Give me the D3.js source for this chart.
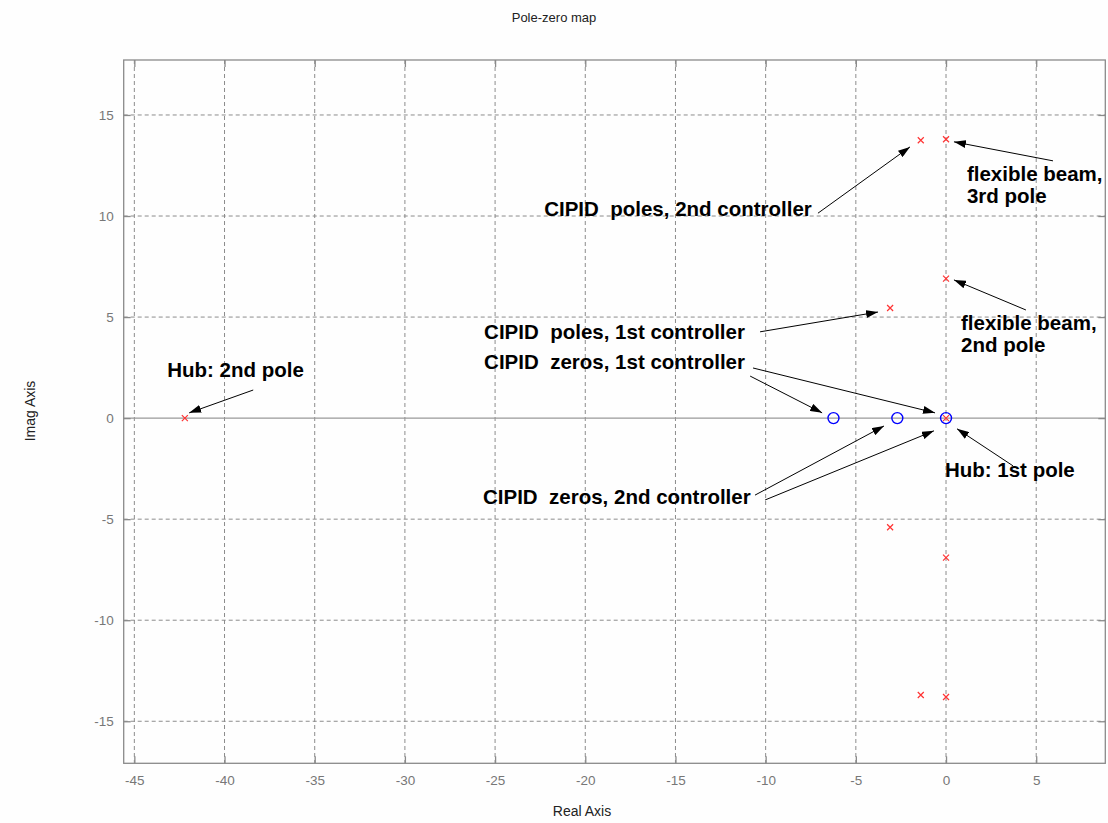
<!DOCTYPE html>
<html>
<head>
<meta charset="utf-8">
<script src="https://cdn.jsdelivr.net/npm/d3@7"></script>
<style>
  body { margin: 0; background: #fefefe; }
  svg { display: block; }
  text { font-family: "Liberation Sans", Arial, sans-serif; white-space: pre; }
</style>
</head>
<body>
<div id="chart"></div>
<script>
// poles (x) and zeros (o) of the loop
let poleRe = [-42.2, 0, -1.4, -1.4, 0, 0, -3.1, -3.1, 0, 0];
let poleIm = [0, 0, 13.75, -13.7, 13.8, -13.8, 5.45, -5.4, 6.9, -6.9];
let zeroRe = [-6.24, -2.7, 0];
let zeroIm = [0, 0, 0];

let xTicks = [-45, -40, -35, -30, -25, -20, -15, -10, -5, 0, 5];
let yTicks = [-15, -10, -5, 0, 5, 10, 15];

// notes: text lines, where the text starts (data units), arrows [from, to]
let notes = [
  {lines: ["CIPID  poles, 2nd controller"], at: [-22.28, 9.99],
   arrows: [[[-7.1, 10.14], [-2.0, 13.42]]]},
  {lines: ["flexible beam,", "3rd pole"], at: [1.16, 11.75],
   arrows: [[[5.93, 12.73], [0.44, 13.67]]]},
  {lines: ["flexible beam,", "2nd pole"], at: [0.83, 4.36],
   arrows: [[[4.43, 5.35], [0.44, 6.84]]]},
  {lines: ["CIPID  poles, 1st controller"], at: [-25.61, 3.92],
   arrows: [[[-10.31, 4.27], [-3.77, 5.25]]]},
  {lines: ["CIPID  zeros, 1st controller"], at: [-25.61, 2.43],
   arrows: [[[-10.7, 2.48], [-0.61, 0.26]], [[-10.86, 2.08], [-6.87, 0.26]]]},
  {lines: ["CIPID  zeros, 2nd controller"], at: [-25.67, -4.25],
   arrows: [[[-10.59, -3.81], [-3.44, -0.39]], [[-10.03, -4.05], [-0.67, -0.63]]]},
  {lines: ["Hub: 1st pole"], at: [-0.06, -2.91],
   arrows: [[[3.71, -2.36], [0.61, -0.53]]]},
  {lines: ["Hub: 2nd pole"], at: [-43.18, 2.04],
   arrows: [[[-38.41, 1.39], [-41.96, 0.26]]]}
];

let width = 1108, height = 823;
let pLeft = 123.7, pRight = 1105.3, pTop = 60, pBottom = 763.3;
let gridColor = "#8c8c8c", axisColor = "#8a8a8a";

let svg = d3.select("#chart").append("svg")
  .attr("width", width)
  .attr("height", height);

let x = d3.scaleLinear().domain([-45.59, 8.83]).range([pLeft, pRight]);
let y = d3.scaleLinear().domain([-17.08, 17.72]).range([pBottom, pTop]);

svg.append("defs").append("marker")
  .attr("id", "head")
  .attr("viewBox", "0 0 12 8")
  .attr("refX", 12).attr("refY", 4)
  .attr("markerWidth", 12).attr("markerHeight", 8)
  .attr("markerUnits", "userSpaceOnUse")
  .attr("orient", "auto")
  .append("path")
  .attr("d", "M0,0 L12,4 L0,8 Z")
  .attr("fill", "#000");

// grid
let grid = svg.append("g");
grid.selectAll(".gx").data(xTicks).enter().append("line")
  .attr("x1", d => x(d)).attr("x2", d => x(d))
  .attr("y1", pTop).attr("y2", pBottom)
  .attr("stroke", gridColor).attr("stroke-dasharray", "4,3");
grid.selectAll(".gy").data(yTicks.filter(d => d !== 0)).enter().append("line")
  .attr("y1", d => y(d)).attr("y2", d => y(d))
  .attr("x1", pLeft).attr("x2", pRight)
  .attr("stroke", gridColor).attr("stroke-dasharray", "4,3");
// real axis line
grid.append("line")
  .attr("x1", pLeft).attr("x2", pRight)
  .attr("y1", y(0)).attr("y2", y(0))
  .attr("stroke", "#999").attr("stroke-width", 1.3);

// axes (plain hyphen minus like the original)
let fmt = d => String(d);
let axB = svg.append("g").attr("transform", "translate(0," + pBottom + ")")
  .call(d3.axisBottom(x).tickValues(xTicks).tickSizeInner(-7).tickSizeOuter(0).tickPadding(12).tickFormat(fmt));
let axT = svg.append("g").attr("transform", "translate(0," + pTop + ")")
  .call(d3.axisTop(x).tickValues(xTicks).tickSizeInner(-7).tickSizeOuter(0).tickFormat(""));
let axL = svg.append("g").attr("transform", "translate(" + pLeft + ",0)")
  .call(d3.axisLeft(y).tickValues(yTicks).tickSizeInner(-7).tickSizeOuter(0).tickPadding(10).tickFormat(fmt));
let axR = svg.append("g").attr("transform", "translate(" + pRight + ",0)")
  .call(d3.axisRight(y).tickValues(yTicks).tickSizeInner(-7).tickSizeOuter(0).tickFormat(""));
[axB, axT, axL, axR].forEach(a => {
  a.select(".domain").remove();
  a.selectAll("line").attr("stroke", axisColor).attr("stroke-width", 1.3);
  a.selectAll("text").attr("fill", "#777").attr("font-size", "13.5px")
    .style("font-family", "Liberation Sans, Arial, sans-serif");
});
svg.append("rect")
  .attr("x", pLeft).attr("y", pTop)
  .attr("width", pRight - pLeft).attr("height", pBottom - pTop)
  .attr("fill", "none").attr("stroke", axisColor).attr("stroke-width", 1.3);

// poles
let s = 3;
svg.append("g").selectAll("path").data(d3.range(poleRe.length)).enter().append("path")
  .attr("d", i => {
    let px = x(poleRe[i]), py = y(poleIm[i]);
    return "M" + (px - s) + "," + (py - s) + "L" + (px + s) + "," + (py + s) +
           "M" + (px - s) + "," + (py + s) + "L" + (px + s) + "," + (py - s);
  })
  .attr("stroke", "#ff3333").attr("stroke-width", 1.2).attr("fill", "none");

// zeros
svg.append("g").selectAll("circle").data(d3.range(zeroRe.length)).enter().append("circle")
  .attr("cx", i => x(zeroRe[i])).attr("cy", i => y(zeroIm[i]))
  .attr("r", 5.5)
  .attr("fill", "none").attr("stroke", "#0000ff").attr("stroke-width", 1.4);

// annotations
let ann = svg.append("g");
notes.forEach(n => {
  n.arrows.forEach(a => {
    ann.append("line")
      .attr("x1", x(a[0][0])).attr("y1", y(a[0][1]))
      .attr("x2", x(a[1][0])).attr("y2", y(a[1][1]))
      .attr("stroke", "#000").attr("stroke-width", 1)
      .attr("marker-end", "url(#head)");
  });
  n.lines.forEach((t, k) => {
    ann.append("text")
      .attr("x", x(n.at[0])).attr("y", y(n.at[1]) + k * 22)
      .attr("font-size", "20.5px").attr("font-weight", "bold")
      .attr("fill", "#000")
      .text(t);
  });
});

// titles
svg.append("text").attr("x", 554).attr("y", 22)
  .attr("text-anchor", "middle").attr("font-size", "13px").attr("fill", "#222")
  .text("Pole-zero map");
svg.append("text").attr("x", 582).attr("y", 816)
  .attr("text-anchor", "middle").attr("font-size", "14px").attr("fill", "#222")
  .text("Real Axis");
svg.append("text")
  .attr("transform", "translate(35," + 411 + ") rotate(-90)")
  .attr("text-anchor", "middle").attr("font-size", "14px").attr("fill", "#222")
  .text("Imag Axis");
</script>
</body>
</html>
